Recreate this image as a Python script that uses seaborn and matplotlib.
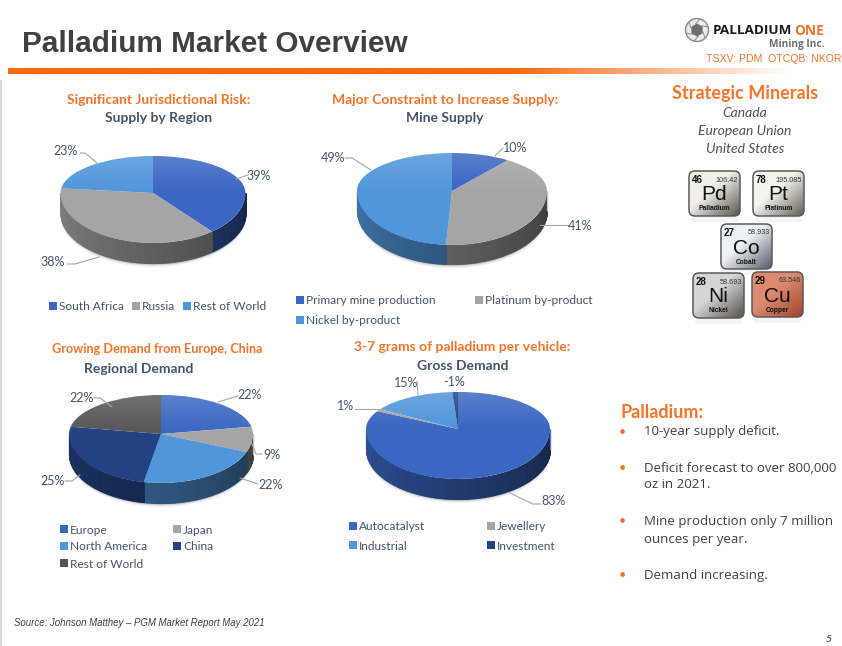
import numpy as np
import seaborn as sns
import matplotlib.pyplot as plt
from matplotlib.patches import Circle, FancyBboxPatch, Rectangle, RegularPolygon
from matplotlib.colors import to_rgb

sns.set_theme(style='white')
plt.rcParams['font.family'] = ['Lato', 'DejaVu Sans']

# Data
supply_region = [39, 38, 23]
supply_region_names = ['South Africa', 'Russia', 'Rest of World']
supply_region_pct = ['39%', '38%', '23%']

mine_supply = [10, 41, 49]
mine_supply_names = ['Primary mine production', 'Platinum by-product', 'Nickel by-product']
mine_supply_pct = ['10%', '41%', '49%']

regional_demand = [22, 9, 22, 25, 22]
regional_demand_names = ['Europe', 'Japan', 'North America', 'China', 'Rest of World']
regional_demand_pct = ['22%', '9%', '22%', '25%', '22%']

gross_demand = [83, 1, 15, 1]
gross_demand_names = ['Autocatalyst', 'Jewellery', 'Industrial', 'Investment']
gross_demand_pct = ['83%', '1%', '15%', '-1%']

element_numbers = ['46', '78', '27', '28', '29']
element_masses = ['106.42', '195.085', '58.933', '58.693', '63.546']
element_symbols = ['Pd', 'Pt', 'Co', 'Ni', 'Cu']
element_names = ['Palladium', 'Platinum', 'Cobalt', 'Nickel', 'Copper']

minerals = ['Canada', 'European Union', 'United States']

BLUE, GRAY, LIGHT = '#3a67c2', '#a5a5a5', '#4f96da'
NAVY, DARK = '#234283', '#565656'
ORANGE, TEXT = '#f4742b', '#44546a'

W, H = 842, 646
fig = plt.figure(figsize=(W / 100, H / 100), dpi=100, facecolor='white')

# overlay in pixel coords for all the text etc
bg = fig.add_axes([0, 0, 1, 1], zorder=3)
bg.patch.set_alpha(0)
bg.set_axis_off()


def pie3d(values, colors, cx, cy, rx, ryt, ryb, depth):
    # pie squashed to an ellipse, back half flatter than the front
    ax = fig.add_axes([(cx - rx) / W, 1 - (cy + ryb + depth) / H,
                       2 * rx / W, (ryt + ryb + depth) / H], zorder=1)
    wedges, _ = ax.pie(values, colors=colors, startangle=90, counterclock=False,
                       radius=1, wedgeprops={'linewidth': 0, 'zorder': 2})
    ax.set_aspect('auto')
    k = ryt / ryb
    ax.set_yscale('function', functions=(
        lambda y: np.where(y >= 0, y * k, y),
        lambda y: np.where(y >= 0, y / k, y)))
    d = depth / ryb
    ax.set_xlim(-1, 1)
    ax.set_ylim(-1 - d, 1)
    ax.set_axis_off()

    # soft shadow under the wall
    th = np.radians(np.linspace(180, 360, 120))
    for pad, a in [(0.07, 0.06), (0.04, 0.1), (0.02, 0.15)]:
        ax.fill_between(np.cos(th), np.sin(th) - d - pad, np.sin(th) - d, color='black',
                        alpha=a, lw=0, zorder=0.5, clip_on=False)

    # side wall
    for w, c in zip(wedges, colors):
        t1, t2 = sorted([w.theta1, w.theta2])
        tt = np.radians(np.arange(t1, t2 + 1.5, 1.5).clip(t1, t2))
        rgb = np.array(to_rgb(c))
        for a, b in zip(tt[:-1], tt[1:]):
            if np.sin(a) > 0.001 and np.sin(b) > 0.001:
                continue
            mid = ((a + b) / 2) % (2 * np.pi)
            f = 0.78 - 0.42 * (mid - np.pi) / np.pi
            xs = np.cos([a, b])
            ys = np.minimum(np.sin([a, b]), 0)
            ax.fill_between(xs, ys - d, ys, color=rgb * f, lw=0.8, zorder=1, clip_on=False,
                            antialiased=False)

    # top of the face is a bit lighter
    edges = np.linspace(0, 1, 15)
    for i, (y0, y1) in enumerate(zip(edges[:-1], edges[1:])):
        band = ax.axhspan(y0, y1, color='white', alpha=0.012 * i, lw=0, zorder=3)
        band.set_antialiased(False)
        band.set_clip_path(Circle((0, 0), 1, transform=ax.transData))
    return ax


pie3d(supply_region, [BLUE, GRAY, LIGHT], 153, 193, 92.5, 37, 50, 20)
pie3d(mine_supply, [BLUE, GRAY, LIGHT], 452, 191, 95, 38, 54, 19)
pie3d(regional_demand, [BLUE, GRAY, LIGHT, NAVY, DARK], 161, 434, 92, 39, 49, 20)
pie3d(gross_demand, [BLUE, GRAY, LIGHT, NAVY], 458, 429, 92, 37, 50, 20)


def txt(x, y, s, size=9, color=TEXT, ha='center', weight='normal', style='normal', family=None):
    kw = {'family': family} if family else {}
    return bg.text(x, y + 1, s, fontsize=size, color=color, ha=ha, va='center',
                   fontweight=weight, fontstyle=style, **kw)


def leader(xs, ys):
    bg.plot(xs, ys, color='#a6a6a6', lw=0.8, solid_capstyle='round')


def legend_row(x, y, name, color):
    bg.add_patch(Rectangle((x, y - 4), 8, 8, color=color, lw=0))
    txt(x + 10, y, name, size=8.6, ha='left')


# chart titles
txt(159, 99, 'Significant Jurisdictional Risk:', size=10, color=ORANGE, weight='bold')
txt(159, 117, 'Supply by Region', size=10, weight='bold')
txt(445, 99, 'Major Constraint to Increase Supply:', size=10, color=ORANGE, weight='bold')
txt(445, 117, 'Mine Supply', size=10, weight='bold')
txt(157, 348, 'Growing Demand from Europe, China', size=9.1, color=ORANGE, weight='bold')
txt(139, 368, 'Regional Demand', size=10, weight='bold')
txt(462, 346, '3-7 grams of palladium per vehicle:', size=10, color=ORANGE, weight='bold')
txt(463, 365, 'Gross Demand', size=10, weight='bold')

# pct labels
txt(259, 175, supply_region_pct[0])
txt(53, 261, supply_region_pct[1])
txt(66, 150, supply_region_pct[2])
leader([248, 236], [175, 179])
leader([67, 75, 99], [264, 264, 257])
leader([80, 85, 97], [153, 153, 163])

txt(515, 147, mine_supply_pct[0])
txt(580, 225, mine_supply_pct[1])
txt(333, 157, mine_supply_pct[2])
leader([503, 495], [148, 156])
leader([568, 540], [225, 225])
leader([345, 352, 371], [158, 158, 170])

txt(250, 394, regional_demand_pct[0])
txt(272, 454, regional_demand_pct[1])
txt(271, 484, regional_demand_pct[2])
txt(53, 480, regional_demand_pct[3])
txt(82, 397, regional_demand_pct[4])
leader([238, 218], [396, 402])
leader([262, 256, 248], [454, 454, 434])
leader([258, 240], [484, 478])
leader([65, 72, 80], [481, 481, 475])
leader([94, 100, 112], [398, 398, 407])

txt(554, 500, gross_demand_pct[0])
txt(346, 405, gross_demand_pct[1])
txt(406, 382, gross_demand_pct[2])
txt(454, 381, gross_demand_pct[3])
leader([541, 533, 510], [504, 504, 493])
leader([355, 385], [409, 409])
leader([417, 418], [381, 395])

# legends
for x, name, c in zip([49, 132, 183], supply_region_names, [BLUE, GRAY, LIGHT]):
    legend_row(x, 306, name, c)
for x, y, name, c in zip([296, 475, 296], [300, 300, 320], mine_supply_names, [BLUE, GRAY, LIGHT]):
    legend_row(x, y, name, c)
for x, y, name, c in zip([60, 173, 60, 173, 60], [529, 529, 546, 546, 563], regional_demand_names,
                         [BLUE, GRAY, LIGHT, NAVY, DARK]):
    legend_row(x, y, name, c)
for x, y, name, c in zip([349, 487, 349, 487], [526, 526, 545, 545], gross_demand_names,
                         [BLUE, GRAY, LIGHT, NAVY]):
    legend_row(x, y, name, c)

# header
bg.add_patch(Rectangle((0, 80), 2, 566, color='#d9d9d9', lw=0))
txt(22, 42.5, 'Palladium Market Overview', size=21.4, color='#404040', ha='left', weight='bold',
    family='Liberation Sans')
grad = np.ones((1, 400, 4))
grad[..., :3] = to_rgb('#f96a12')
grad[..., 3] = np.r_[np.ones(260), np.linspace(1, 0, 140)]
bg.imshow(grad, extent=(8, 790, 74, 68), aspect='auto', zorder=1)

# logo
bg.add_patch(Circle((697, 30), 11.5, fc='#ececec', ec='#8a8a8a', lw=1))
bg.add_patch(RegularPolygon((697, 30), 6, radius=6.5, fc='#6e6e6e', lw=0))
for ang in np.radians(np.arange(0, 360, 60) + 15):
    bg.plot([697 + 6 * np.cos(ang), 697 + 11 * np.cos(ang + 0.5)],
            [30 + 6 * np.sin(ang), 30 + 11 * np.sin(ang + 0.5)], color='#8a8a8a', lw=0.7)
txt(713, 30, 'PALLADIUM', size=9.7, color='#1a1a1a', ha='left', weight='bold', family='Open Sans')
txt(794, 30, 'ONE', size=9.9, color=ORANGE, ha='left', weight='bold', family='Open Sans')
txt(825, 44, 'Mining Inc.', size=7.3, color='#6e6e6e', ha='right', weight='bold', family='Open Sans')
txt(841, 58, 'TSXV: PDM  OTCQB: NKOR', size=7.6, color=ORANGE, ha='right', family='Liberation Sans')

# right column
txt(745, 92, 'Strategic Minerals', size=13, color=ORANGE, weight='bold')
for y, name in zip([112, 130, 148], minerals):
    txt(745, y, name, size=10, style='italic', color='#505050')

tile_x = [689, 753, 721, 693, 752]
tile_y = [171, 171, 224, 273, 272]
tile_light = ['#f0efe9', '#f4f3ee', '#eef1f5', '#d6d6d6', '#dd8a70']
tile_dark = ['#5f5a50', '#6a655a', '#5a6070', '#5a5650', '#a0492e']
for i, s in enumerate(element_symbols):
    x0, y0 = tile_x[i], tile_y[i]
    x1, y1 = x0 + 51, y0 + 45
    bg.add_patch(FancyBboxPatch((x0 + 2, y1 + 1), 47, 5, boxstyle='round,pad=0,rounding_size=3',
                                fc='#f4f4f4', ec='none'))
    xx, yy = np.meshgrid(np.linspace(0, 1, 60), np.linspace(0, 1, 60))
    t = np.clip((xx + yy - 0.85) / 1.1, 0, 1)[..., None]
    img = np.array(to_rgb(tile_light[i])) * (1 - t) + np.array(to_rgb(tile_dark[i])) * t
    im = bg.imshow(img, extent=(x0, x1, y1, y0), aspect='auto', zorder=2)
    box = FancyBboxPatch((x0, y0), 51, 45, boxstyle='round,pad=0,rounding_size=6',
                         fc='none', ec='#5a5a5a', lw=1.1, zorder=2.1)
    bg.add_patch(box)
    im.set_clip_path(box)
    txt(x0 + 3, y0 + 8, element_numbers[i], size=7, color='#111111', ha='left', weight='bold',
        family='Liberation Sans').set_zorder(4)
    txt(x1 - 2, y0 + 8, element_masses[i], size=5.2, color='#333333', ha='right',
        family='Liberation Sans').set_zorder(4)
    txt((x0 + x1) / 2, y0 + 23, s, size=15, color='#111111', family='Liberation Sans').set_zorder(4)
    txt((x0 + x1) / 2, y0 + 37, element_names[i], size=4.8, color='#111111', weight='bold',
        family='Liberation Sans').set_zorder(4)

# palladium bullets
txt(620, 411, 'Palladium:', size=13, color=ORANGE, ha='left', weight='bold')
bullets = ['10-year supply deficit.', 'Deficit forecast to over 800,000', 'oz in 2021.',
           'Mine production only 7 million', 'ounces per year.', 'Demand increasing.']
for y, line in zip([431, 467, 484, 520, 538, 574], bullets):
    txt(644, y, line, size=9.5, color='#404040', ha='left', family='Open Sans')
for y in [431, 467, 520, 574]:
    txt(622, y, '•', size=9, color=ORANGE)

# footer
txt(14, 622, 'Source: Johnson Matthey – PGM Market Report May 2021', size=6.9, color='#404040',
    ha='left', style='italic', family='Liberation Sans')
txt(829, 639, '5', size=7.5, color='#595959', weight='bold', style='italic')

bg.set_xlim(0, W)
bg.set_ylim(H, 0)

fig.savefig('out.png', dpi=100)
